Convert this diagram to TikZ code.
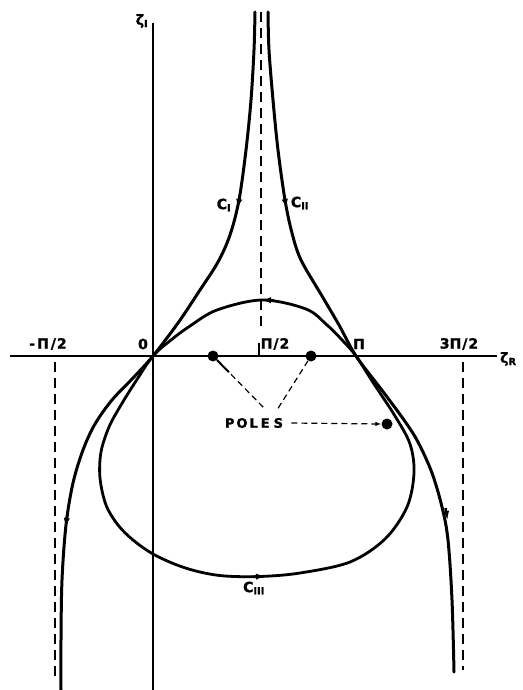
\documentclass[tikz,border=0pt]{standalone}
\usepackage{fontspec}
\setmainfont{DejaVu Sans}[BoldFeatures={FakeBold=1.5}]
\usetikzlibrary{arrows.meta,calc}
\begin{document}
\begin{tikzpicture}[x=1pt,y=-1pt,
  curve/.style={line width=3pt, line join=round, line cap=round},
  axisline/.style={line width=2.8pt},
  guide/.style={line width=2pt, dash pattern=on 10pt off 6pt},
  leader/.style={line width=1.2pt, dash pattern=on 6pt off 4pt},
  lab/.style={font=\fontsize{14}{14}\selectfont\bfseries, inner sep=0pt},
  clab/.style={font=\fontsize{14}{14}\selectfont\bfseries, inner sep=0pt},
  pole/.style={circle, fill, inner sep=0pt, minimum size=11pt},
  mk/.style={-{Latex[length=9pt,width=6.5pt]}, line width=2.4pt}]
\useasboundingbox (0,0) rectangle (522,690);
% axes
\coordinate (xl) at (10,356);
\coordinate (xr) at (497,356);
\coordinate (yt) at (153,23);
\coordinate (yb) at (153,690);
\draw[axisline] (xl) -- (xr);
\draw[line width=2.5pt] (yt) -- (yb);
\node[lab, anchor=west] (zr) at (500,359) {ζ\textsubscript{R}};
\node[lab] (zi) at (142,21) {ζ\textsubscript{I}};
% tick labels
\node[lab] (tm) at (48,344) {-\kern2pt Π\kern2pt/\kern1pt 2};
\node[lab] (t0) at (143,344) {0};
\node[lab] (t1) at (275,344) {Π\kern1pt/\kern1pt 2};
\node[lab] (t2) at (359,344) {Π};
\node[lab] (t3) at (459,344) {3Π\kern1pt/\kern1pt 2};
% guides
\coordinate (gTa) at (261,12);
\coordinate (gTb) at (261,332);
\draw[guide] (gTa) -- (gTb);
\coordinate (tk1) at (259,343);
\coordinate (tk2) at (259,356);
\draw[line width=1.8pt] (tk1) -- (tk2);
\coordinate (gLa) at (55,362);
\coordinate (gLb) at (55,682);
\draw[guide] (gLa) -- (gLb);
\coordinate (gRa) at (463,362);
\coordinate (gRb) at (463,670);
\draw[guide] (gRa) -- (gRb);
% C_I
\draw[curve] plot[smooth, tension=0.55] coordinates {
 (255,12) (254,50) (251,100) (246,150) (239,200) (230,235) (218,262)
 (200,290) (178,323) (153,356) (133,378) (112,400) (95,424) (83,450)
 (73,483) (66,525) (62,580) (61,640) (61,690)};
% C_II
\draw[curve] plot[smooth, tension=0.55] coordinates {
 (268,12) (269,50) (273,100) (278,150) (285,200) (292,233) (301,260)
 (322,296) (339,325) (356,356) (381,389) (404,420) (418,442) (432,473)
 (442,507) (448,540) (452,600) (454,672)};
% C_III (closed)
\draw[curve, line width=2.8pt] plot[smooth cycle, tension=0.55] coordinates {
 (153,356) (171,340) (190,326) (217,310) (262,300) (306,309) (327,325)
 (343,341) (356,356) (374,384) (395,416) (410,444) (414,473) (407,507)
 (385,539) (350,562) (300,573) (260,576.5) (225,576) (200,572) (177,565)
 (153,554) (133,540) (118,525) (106,505) (100,478) (101,452) (109,427)
 (121,405) (136,381)};
% direction marks
\draw[mk] (239.8,196) -- (237.6,208);
\draw[mk] (284.2,196) -- (286.4,208);
\draw[mk] (67.3,515) -- (65.5,527);
\draw[mk] (445.5,508) -- (447.5,520);
\draw[mk] (274,300.3) -- (262,300);
\draw[mk] (251,576.8) -- (265,576.3);
% curve labels
\node[clab] (c1) at (224,205) {C\textsubscript{I}};
\node[clab] (c2) at (300,203) {C\textsubscript{II}};
\node[clab] (c3) at (254,588) {C\textsubscript{III}};
% poles
\node[pole] (pA) at (213,356) {};
\node[pole] (pB) at (311,356) {};
\node[pole] (pC) at (387,424) {};
\node[font=\fontsize{13}{13}\selectfont\bfseries, inner sep=0pt] (poles) at (254,423)
  {P\kern2pt O\kern2pt L\kern3pt E\kern4pt S};
\coordinate (lA) at (266,410);
\coordinate (lB) at (277,410);
\coordinate (lA1) at ($(pA)!0.3!(lA)$);
\draw[leader] (pA) -- (lA);
\draw[line width=2pt] (pA) -- (lA1);
\draw[leader] (pB) -- (lB);
\draw[leader, -{Latex[length=6pt,width=4.5pt]}] ([xshift=8pt]poles.east) -- (pC.west);
\end{tikzpicture}
\end{document}
